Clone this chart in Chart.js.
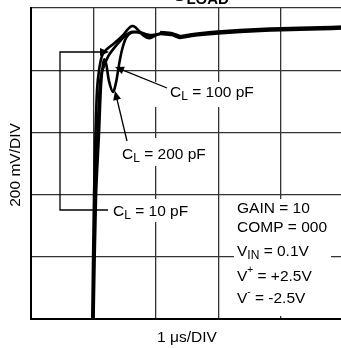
<!DOCTYPE html>
<html>
<head>
<meta charset="utf-8">
<script src="https://cdn.jsdelivr.net/npm/chart.js@4/dist/chart.umd.min.js"></script>
<style>
  html, body { margin: 0; padding: 0; background: #fff; overflow: hidden; }
  canvas { display: block; }
</style>
</head>
<body>
<canvas id="grafico" width="345" height="348"></canvas>
<script>
// tiempos en microsegundos, tensiones en mV (200 mV/DIV, 1 us/DIV)
const tiempo10pF = [0.982, 1.010, 1.034, 1.058, 1.090, 1.138, 1.202, 1.298, 1.394, 1.490, 1.554, 1.619, 1.667, 1.731, 1.811, 1.891, 1.955, 2.035, 2.147];
const tension10pF = [0, 395, 598, 736, 800, 846, 865, 881, 897, 916, 932, 942, 939, 926, 910, 903, 907, 916, 920];

const tiempo100pF = [0.994, 1.026, 1.066, 1.098, 1.122, 1.170, 1.250, 1.346, 1.442, 1.522, 1.603, 1.747, 1.907, 2.147];
const tension100pF = [0, 395, 598, 736, 785, 813, 849, 875, 897, 913, 923, 920, 913, 920];

const tiempo200pF = [1.002, 1.042, 1.090, 1.122, 1.154, 1.178, 1.210, 1.250, 1.314, 1.362, 1.410, 1.458, 1.522, 1.603, 1.747, 1.907, 2.147];
const tension200pF = [0, 395, 598, 752, 820, 835, 815, 765, 730, 760, 817, 865, 903, 920, 923, 910, 920];

// tramo final, ya estabilizado (las tres curvas se superponen)
const tiempoFinal = [2.067, 2.260, 2.388, 2.548, 2.708, 2.997, 3.349, 3.670, 4.006, 4.311, 4.631, 5.0];
const tensionFinal = [920, 916, 907, 912, 916, 921, 926, 929, 932, 933, 935, 937];

const etiquetasCarga = ['CL = 10 pF', 'CL = 100 pF', 'CL = 200 pF'];

function puntos(t, v) {
  return t.map((x, i) => ({ x: x, y: v[i] }));
}

const fuente = '"Liberation Sans", Arial, Helvetica, sans-serif';

// dibuja texto con subindices / superindices
function textoRico(ctx, x, y, partes) {
  let cx = x;
  partes.forEach(p => {
    ctx.font = (p.bold ? 'bold ' : '') + (p.size || 15.5) + 'px ' + fuente;
    ctx.fillText(p.t, cx, y + (p.dy || 0));
    cx += ctx.measureText(p.t).width;
  });
}

function flecha(ctx, x1, y1, x2, y2) {
  // linea de (x1,y1) hasta la punta (x2,y2)
  const ang = Math.atan2(y2 - y1, x2 - x1);
  const largo = 9, ancho = 4;
  ctx.beginPath();
  ctx.moveTo(x1, y1);
  ctx.lineTo(x2 - Math.cos(ang) * largo * 0.8, y2 - Math.sin(ang) * largo * 0.8);
  ctx.stroke();
  ctx.beginPath();
  ctx.moveTo(x2, y2);
  ctx.lineTo(x2 - Math.cos(ang) * largo - Math.sin(ang) * ancho, y2 - Math.sin(ang) * largo + Math.cos(ang) * ancho);
  ctx.lineTo(x2 - Math.cos(ang) * largo + Math.sin(ang) * ancho, y2 - Math.sin(ang) * largo - Math.cos(ang) * ancho);
  ctx.closePath();
  ctx.fill();
}

const anotaciones = {
  id: 'anotaciones',
  beforeDatasetsDraw(chart) {
    const ctx = chart.ctx;
    ctx.save();
    ctx.fillStyle = '#fff';
    // cajas blancas que tapan la reticula detras de los textos
    ctx.fillRect(155, 82, 107, 25);
    ctx.fillRect(118, 138, 94, 28);
    ctx.fillRect(108, 199, 88, 23);
    ctx.fillRect(234, 199, 97, 117);
    ctx.restore();
  },
  afterDatasetsDraw(chart) {
    const ctx = chart.ctx;
    ctx.save();
    ctx.fillStyle = '#000';
    ctx.strokeStyle = '#000';
    ctx.lineWidth = 1.3;
    ctx.textBaseline = 'alphabetic';

    // titulo cortado arriba
    textoRico(ctx, 172, 1, [{ t: 'C', size: 20, bold: true }, { t: 'LOAD', size: 15, bold: true, dy: 3 }]);

    // etiquetas de capacidad
    textoRico(ctx, 170, 97, [{ t: 'C' }, { t: 'L', size: 12, dy: 3 }, { t: ' = 100 pF' }]);
    textoRico(ctx, 122, 159, [{ t: 'C' }, { t: 'L', size: 12, dy: 3 }, { t: ' = 200 pF' }]);
    textoRico(ctx, 113, 216, [{ t: 'C' }, { t: 'L', size: 12, dy: 3 }, { t: ' = 10 pF' }]);

    // condiciones de prueba
    textoRico(ctx, 237, 213, [{ t: 'GAIN = 10' }]);
    textoRico(ctx, 237, 232, [{ t: 'COMP = 000' }]);
    textoRico(ctx, 237, 256, [{ t: 'V' }, { t: 'IN', size: 12, dy: 3 }, { t: ' = 0.1V' }]);
    textoRico(ctx, 237, 281, [{ t: 'V' }, { t: '+', size: 10, dy: -8 }, { t: ' = +2.5V' }]);
    textoRico(ctx, 237, 303, [{ t: 'V' }, { t: '-', size: 10, dy: -8 }, { t: ' = -2.5V' }]);

    // lineas guia
    ctx.beginPath();
    ctx.moveTo(100, 52);
    ctx.lineTo(60, 52);
    ctx.lineTo(60, 210);
    ctx.lineTo(108, 210);
    ctx.stroke();
    flecha(ctx, 100, 52, 109, 52);
    flecha(ctx, 167, 88, 115, 67);
    flecha(ctx, 127, 141, 115, 91);

    // titulos de ejes
    ctx.font = '15.5px ' + fuente;
    ctx.textAlign = 'center';
    ctx.fillText('1 \u03bcs/DIV', 187, 342);
    ctx.translate(20, 165);
    ctx.rotate(-Math.PI / 2);
    ctx.fillText('200 mV/DIV', 0, 0);
    ctx.restore();
  }
};

const estiloCurva = { borderColor: '#000', borderWidth: 2.6, pointRadius: 0, showLine: true, tension: 0.3, fill: false };

new Chart(document.getElementById('grafico').getContext('2d'), {
  type: 'scatter',
  data: {
    datasets: [
      Object.assign({ label: etiquetasCarga[0], data: puntos(tiempo10pF, tension10pF) }, estiloCurva),
      Object.assign({ label: etiquetasCarga[1], data: puntos(tiempo100pF, tension100pF) }, estiloCurva),
      Object.assign({ label: etiquetasCarga[2], data: puntos(tiempo200pF, tension200pF) }, estiloCurva),
      Object.assign({ label: 'final', data: puntos(tiempoFinal, tensionFinal) }, estiloCurva, { borderWidth: 4.5, tension: 0.2 })
    ]
  },
  options: {
    responsive: false,
    animation: false,
    layout: { padding: { left: 31, top: 8, right: 2, bottom: 29 } },
    plugins: { legend: { display: false }, tooltip: { enabled: false } },
    scales: {
      x: {
        type: 'linear', min: 0, max: 5,
        ticks: { display: false, stepSize: 1 },
        grid: { color: '#333', lineWidth: 1.3, drawTicks: false },
        border: { color: '#000', width: 2 }
      },
      y: {
        type: 'linear', min: 0, max: 1000,
        ticks: { display: false, stepSize: 200 },
        grid: { color: '#333', lineWidth: 1.3, drawTicks: false },
        border: { color: '#000', width: 2 }
      }
    }
  },
  plugins: [anotaciones]
});
</script>
</body>
</html>
